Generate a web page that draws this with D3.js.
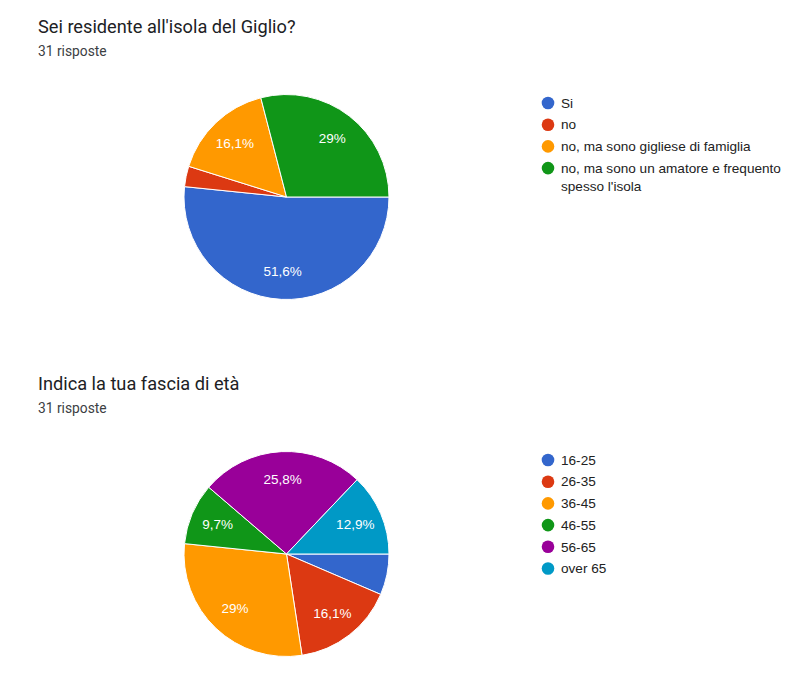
<!DOCTYPE html>
<html>
<head>
<meta charset="utf-8">
<script src="https://cdn.jsdelivr.net/npm/d3@7"></script>
<style>
  html, body { margin: 0; padding: 0; background: #fff; }
  svg { display: block; }
</style>
</head>
<body>
<svg id="chart" width="800" height="677"></svg>
<script>
// ---- data ----
const q1Title = "Sei residente all'isola del Giglio?";
const q1Subtitle = "31 risposte";
const q1Labels = ["Si", "no", "no, ma sono gigliese di famiglia", "no, ma sono un amatore e frequento spesso l'isola"];
const q1Counts = [16, 1, 5, 9];

const q2Title = "Indica la tua fascia di età";
const q2Subtitle = "31 risposte";
const q2Labels = ["16-25", "26-35", "36-45", "46-55", "56-65", "over 65"];
const q2Counts = [2, 5, 9, 3, 8, 4];

const palette = ["#3366cc", "#dc3912", "#ff9900", "#109618", "#990099", "#0099c6"];

// ---- drawing ----
const svg = d3.select("#chart");

function fmtPct(v) {
  const r = Math.round(v * 10) / 10;
  let s = (r % 1 === 0) ? r.toFixed(0) : r.toFixed(1);
  return s.replace(".", ",") + "%";
}

function drawBlock(offsetY, title, subtitle, labels, counts) {
  const g = svg.append("g").attr("transform", `translate(0,${offsetY})`);
  g.append("text").attr("x", 38).attr("y", 33)
    .attr("font-family", "Roboto, Arial, sans-serif").attr("font-size", 18.2)
    .attr("fill", "#202124").text(title);
  g.append("text").attr("x", 38).attr("y", 56)
    .attr("font-family", "Roboto, Arial, sans-serif").attr("font-size", 13.8)
    .attr("fill", "#3c4043").text(subtitle);

  const total = d3.sum(counts);
  const color = d3.scaleOrdinal().domain(labels).range(palette);
  const cx = 286.5, cy = 197, r = 102.5;
  const pie = d3.pie().sort(null).startAngle(Math.PI / 2).endAngle(Math.PI / 2 + 2 * Math.PI);
  const arcs = pie(counts);
  const arc = d3.arc().innerRadius(0).outerRadius(r);
  const labelArc = d3.arc().innerRadius(r * 0.73).outerRadius(r * 0.73);
  const pg = g.append("g").attr("transform", `translate(${cx},${cy})`);
  pg.selectAll("path").data(arcs).join("path")
    .attr("d", arc)
    .attr("fill", (d, i) => color(labels[i]))
    .attr("stroke", "#fff").attr("stroke-width", 1);
  pg.selectAll("text").data(arcs.filter(d => d.value / total >= 0.07)).join("text")
    .attr("transform", d => `translate(${labelArc.centroid(d)})`)
    .attr("text-anchor", "middle").attr("dy", "0.35em")
    .attr("font-family", "Arial, 'Liberation Sans', sans-serif").attr("font-size", 13.5)
    .attr("fill", "#fff")
    .text(d => fmtPct(d.value / total * 100));

  // legend
  const lg = g.append("g");
  const lx = 548, ly0 = 103, step = 21.7, lineH = 18.5, maxW = 228;
  let y = ly0;
  labels.forEach((lab, i) => {
    lg.append("circle").attr("cx", lx).attr("cy", y).attr("r", 6.3).attr("fill", color(lab));
    const t = lg.append("text").attr("x", 561).attr("y", y).attr("dy", "0.35em")
      .attr("font-family", "Arial, 'Liberation Sans', sans-serif").attr("font-size", 13.6)
      .attr("fill", "#222");
    const words = lab.split(" ");
    let line = [];
    let tspan = t.append("tspan").attr("x", 561);
    let lines = 1;
    words.forEach(w => {
      line.push(w);
      tspan.text(line.join(" "));
      if (tspan.node().getComputedTextLength() > maxW && line.length > 1) {
        line.pop();
        tspan.text(line.join(" "));
        line = [w];
        tspan = t.append("tspan").attr("x", 561).attr("dy", lineH).text(w);
        lines++;
      }
    });
    y += step + (lines - 1) * lineH;
  });
}

drawBlock(0, q1Title, q1Subtitle, q1Labels, q1Counts);
drawBlock(357, q2Title, q2Subtitle, q2Labels, q2Counts);
</script>
</body>
</html>
